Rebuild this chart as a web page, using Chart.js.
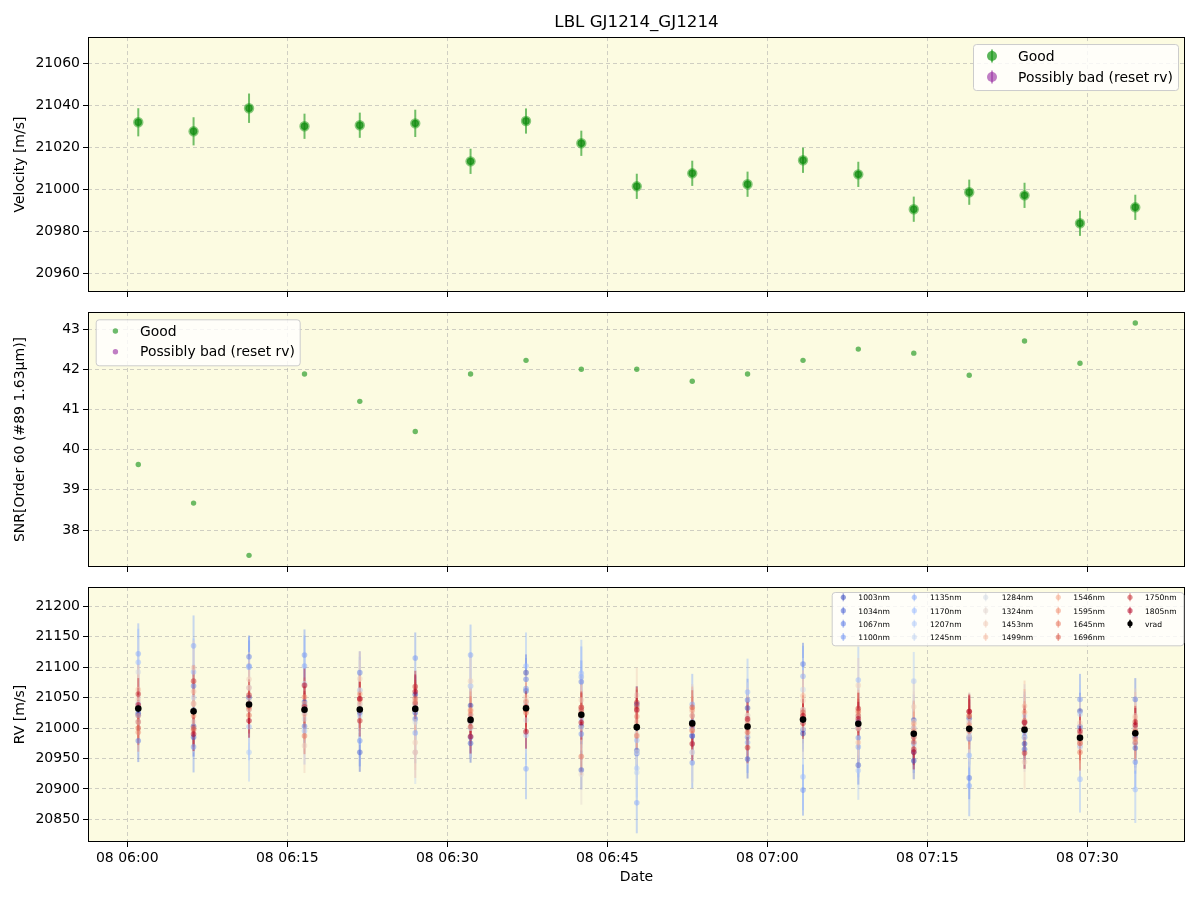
<!DOCTYPE html>
<html>
<head>
<meta charset="utf-8">
<script src="https://cdn.jsdelivr.net/npm/chart.js@4.4.0/dist/chart.umd.min.js"></script>
<style>
  body { margin: 0; background: #fff; }
  #wrap { position: relative; width: 1200px; height: 900px; }
  canvas { position: absolute; left: 0; }
</style>
</head>
<body>
<div id="wrap">
  <canvas id="velChart" width="1200" height="300" style="top:0"></canvas>
  <canvas id="snrChart" width="1200" height="275" style="top:300px"></canvas>
  <canvas id="rvChart" width="1200" height="325" style="top:575px"></canvas>
</div>
<script>
// observation times (08 Jan, UT) and per-epoch values
const obsTimes = ['06:01:02', '06:06:13', '06:11:25', '06:16:37', '06:21:48', '06:27:00', '06:32:11',
  '06:37:23', '06:42:34', '06:47:46', '06:52:58', '06:58:09', '07:03:21', '07:08:32', '07:13:44',
  '07:18:56', '07:24:07', '07:29:19', '07:34:30'];
const velocity = [21031.9, 21027.6, 21038.6, 21030.0, 21030.5, 21031.4, 21013.3, 21032.5, 21021.9, 21001.4,
  21007.6, 21002.4, 21013.8, 21007.1, 20990.5, 20998.6, 20997.1, 20983.8, 20991.4];
const velocityErr = [6.7, 6.7, 7.0, 6.0, 6.0, 6.5, 6.0, 6.0, 6.0, 6.0, 6.0, 6.0, 6.0, 6.0, 6.0, 6.0, 6.0, 6.0, 6.0];
const snr = [39.63, 38.67, 37.37, 41.88, 41.20, 40.45, 41.88, 42.22, 42.00, 42.00, 41.70, 41.88, 42.22,
  42.50, 42.40, 41.85, 42.70, 42.15, 43.15];

const wavelengths = ['1003nm', '1034nm', '1067nm', '1100nm', '1135nm', '1170nm', '1207nm', '1245nm', '1284nm',
  '1324nm', '1453nm', '1499nm', '1546nm', '1595nm', '1645nm', '1696nm', '1750nm', '1805nm'];
const rv1003 = [21024, 21003, 21050, 21037, 21025, 21055, 21037, 21091, 21003, 21039, 20987, 21033, 20991, 21010, 20946, 21016, 20974, 21028, 20985];
const rv1034 = [21021, 20985, 21040, 21043, 20960, 21025, 20975, 21061, 20931, 20963, 21000, 20949, 20997, 20939, 21013, 20985, 20965, 21002, 20967];
const rv1067 = [20979, 21069, 21117, 21003, 21091, 21015, 20985, 21080, 21076, 20958, 20987, 21046, 21105, 21000, 20961, 20918, 20985, 20985, 21047];
const rv1100 = [21030, 20969, 21102, 21120, 20979, 21115, 21010, 21065, 20990, 21000, 20943, 20985, 20898, 20984, 20975, 20982, 20995, 21047, 20944];
const rv1135 = [21122, 21135, 21100, 21102, 21030, 20992, 21120, 20933, 21084, 20877, 21039, 20976, 21085, 20969, 20990, 20905, 21010, 20970, 20975];
const rv1170 = [21108, 21092, 21002, 20995, 21062, 21040, 21069, 21102, 21090, 20980, 21010, 21059, 20920, 21079, 21000, 20955, 21000, 20916, 20899];
const rv1207 = [21040, 21030, 20960, 21025, 21020, 21030, 21000, 20988, 21015, 20934, 20960, 21000, 21030, 20930, 21077, 21010, 20990, 21023, 21000];
const rv1245 = [21010, 21050, 21066, 21073, 21040, 20960, 21020, 21040, 21030, 20927, 21020, 21010, 21063, 21020, 20985, 20990, 21020, 20980, 20990];
const rv1284 = [21092, 21040, 21030, 21015, 21035, 21010, 21069, 21013, 21000, 20960, 21000, 21020, 21010, 21010, 20970, 21000, 20983, 20990, 21000];
const rv1324 = [21050, 21010, 21045, 21030, 21062, 21045, 21000, 21045, 20924, 20990, 20960, 20990, 21000, 21000, 21010, 20985, 21000, 20967, 20980];
const rv1453 = [21045, 21099, 21080, 20971, 21081, 20976, 21077, 21051, 21046, 21054, 21027, 21021, 21045, 21070, 21035, 21010, 20944, 21008, 21020];
const rv1499 = [21063, 21060, 21066, 21022, 21039, 20960, 21010, 21035, 21020, 21010, 20995, 21010, 21053, 20976, 21000, 21000, 21036, 20975, 21017];
const rv1546 = [21020, 21040, 21040, 21040, 21045, 21030, 21030, 21030, 21034, 21028, 21030, 21013, 21030, 21025, 21007, 21020, 21026, 20980, 21000];
const rv1595 = [20993, 21020, 21031, 21051, 21056, 21043, 21028, 21043, 21025, 21019, 21020, 21005, 21021, 20999, 20995, 21005, 21012, 20990, 20982];
const rv1645 = [21010, 21000, 21021, 20987, 21030, 21049, 21022, 21025, 20953, 20987, 20996, 20993, 21015, 21028, 20977, 20995, 21009, 20960, 20976];
const rv1696 = [21000, 20997, 21035, 21030, 21048, 21040, 21002, 21030, 21030, 21035, 21034, 21000, 21026, 21020, 20985, 21020, 21000, 20975, 20995];
const rv1750 = [21056, 21077, 21054, 21035, 21012, 21068, 21015, 21035, 21034, 21042, 21005, 20968, 21008, 21032, 20965, 21027, 20959, 20985, 21010];
const rv1805 = [21038, 20990, 21012, 21070, 21048, 21060, 20986, 20994, 21009, 21030, 20974, 21015, 21020, 21015, 20960, 21027, 21009, 20995, 21005];
// typical per-line uncertainty
const rvErr = [30, 32, 35, 42, 50, 55, 48, 52, 55, 50, 45, 42, 38, 32, 30, 28, 26, 28];

const rvSeries = [rv1003, rv1034, rv1067, rv1100, rv1135, rv1170, rv1207, rv1245, rv1284,
  rv1324, rv1453, rv1499, rv1546, rv1595, rv1645, rv1696, rv1750, rv1805];

// styling
const PLOT_BG = '#fcfbe1';
const GRID = 'rgba(170,170,170,0.55)';
const X_MIN = -3.68, X_MAX = 99.16;
const COOLWARM = ['#3b4cc0', '#5977e3', '#7b9ff9', '#9ebeff', '#c0d4f5', '#dddcdc', '#f2cbb7', '#f7ac8e', '#ee8468', '#d65244', '#b40426'];

Chart.defaults.font.family = "'DejaVu Sans', sans-serif";
Chart.defaults.font.size = 14;
Chart.defaults.color = '#000';
Chart.defaults.animation = false;

function hexToRgb(h) {
    return [1, 3, 5].map(i => parseInt(h.slice(i, i + 2), 16));
}

function coolwarm(t, alpha) {
    const pos = t * (COOLWARM.length - 1);
    const i = Math.min(Math.floor(pos), COOLWARM.length - 2);
    const f = pos - i;
    const a = hexToRgb(COOLWARM[i]), b = hexToRgb(COOLWARM[i + 1]);
    const c = a.map((v, k) => Math.round(v + (b[k] - v) * f));
    return `rgba(${c[0]},${c[1]},${c[2]},${alpha})`;
}

const toMinutes = t => {
    const [h, m, s] = t.split(':').map(Number);
    return (h - 6) * 60 + m + s / 60;
};
const xMinutes = obsTimes.map(toMinutes);
const pad = n => String(n).padStart(2, '0');
const fmtTime = v => '08 ' + pad(6 + Math.floor(v / 60)) + ':' + pad(Math.round(v % 60));

const toPoints = arr => arr.map((v, j) => ({ x: xMinutes[j], y: v }));

// fills the plot area and draws the black frame
const framePlugin = {
    id: 'frame',
    beforeDraw(chart) {
        const { ctx, chartArea: a } = chart;
        ctx.save();
        ctx.fillStyle = PLOT_BG;
        ctx.fillRect(a.left, a.top, a.right - a.left, a.bottom - a.top);
        ctx.restore();
    },
    afterDraw(chart) {
        const { ctx, chartArea: a } = chart;
        ctx.save();
        ctx.strokeStyle = '#000';
        ctx.lineWidth = 1;
        ctx.strokeRect(Math.round(a.left) + 0.5, Math.round(a.top) + 0.5,
            Math.round(a.right - a.left) - 1, Math.round(a.bottom - a.top) - 1);
        ctx.restore();
    }
};

// vertical error bars, drawn under the markers
const errorBarPlugin = {
    id: 'errorBars',
    beforeDatasetsDraw(chart) {
        const { ctx, chartArea: a } = chart;
        const ys = chart.scales.y;
        ctx.save();
        ctx.beginPath();
        ctx.rect(a.left, a.top, a.right - a.left, a.bottom - a.top);
        ctx.clip();
        chart.data.datasets.forEach((ds, i) => {
            if (!ds.errors) return;
            const meta = chart.getDatasetMeta(i);
            ctx.strokeStyle = ds.errorColor;
            ctx.lineWidth = ds.errorWidth;
            meta.data.forEach((pt, j) => {
                const v = ds.data[j].y, e = ds.errors[j];
                ctx.beginPath();
                ctx.moveTo(pt.x, ys.getPixelForValue(v - e));
                ctx.lineTo(pt.x, ys.getPixelForValue(v + e));
                ctx.stroke();
            });
        });
        ctx.restore();
    }
};

// matplotlib-like legend box inside the plot area
const boxLegendPlugin = {
    id: 'boxLegend',
    afterDraw(chart, args, opts) {
        if (!opts || !opts.box) return;
        const { ctx, chartArea: a } = chart;
        const [bx, by, bw, bh] = opts.box;
        ctx.save();
        ctx.beginPath();
        ctx.roundRect(a.left + bx + 0.5, a.top + by + 0.5, bw, bh, 3);
        ctx.fillStyle = 'rgba(255,255,255,0.8)';
        ctx.fill();
        ctx.strokeStyle = '#cccccc';
        ctx.lineWidth = 1;
        ctx.stroke();
        ctx.font = `${opts.fontSize}px 'DejaVu Sans'`;
        ctx.textBaseline = 'middle';
        chart.data.datasets.forEach((d, k) => {
            const col = Math.floor(k / opts.rows.length), row = k % opts.rows.length;
            const mx = a.left + opts.markerX[col], my = a.top + opts.rows[row];
            if (opts.barHalf) {
                ctx.strokeStyle = d.legendBar;
                ctx.lineWidth = opts.barWidth;
                ctx.beginPath();
                ctx.moveTo(mx, my - opts.barHalf);
                ctx.lineTo(mx, my + opts.barHalf);
                ctx.stroke();
            }
            ctx.fillStyle = d.legendColor;
            ctx.beginPath();
            ctx.arc(mx, my, opts.markerR, 0, Math.PI * 2);
            ctx.fill();
            ctx.fillStyle = '#000';
            ctx.fillText(d.label, a.left + opts.textX[col], my + 1);
        });
        ctx.restore();
    }
};

function xScale(showLabels, height) {
    return {
        type: 'linear',
        min: X_MIN,
        max: X_MAX,
        ticks: {
            stepSize: 15, includeBounds: false, autoSkip: false, maxRotation: 0, padding: 3,
            callback: v => showLabels ? fmtTime(v) : ''
        },
        grid: { color: GRID, lineWidth: 1, tickColor: '#000', tickLength: 5, tickWidth: 1, tickBorderDash: [] },
        border: { display: false, dash: [4, 3] },
        title: showLabels
            ? { display: true, text: 'Date', padding: { top: 0, bottom: 14 } }
            : { display: false },
        afterFit: s => {
            s.height = height;
            s.paddingLeft = 0;
            s.paddingRight = 0;
        }
    };
}

function yScale(title, min, max, step) {
    return {
        type: 'linear',
        min: min,
        max: max,
        ticks: { stepSize: step, includeBounds: false, padding: 3, callback: v => String(v) },
        grid: { color: GRID, lineWidth: 1, tickColor: '#000', tickLength: 5, tickWidth: 1, tickBorderDash: [] },
        border: { display: false, dash: [4, 3] },
        title: { display: true, text: title, padding: { top: 12, bottom: 0 } },
        afterFit: s => {
            s.width = 88;
            s.paddingTop = 0;
            s.paddingBottom = 0;
        }
    };
}

const baseOptions = {
    responsive: false,
    devicePixelRatio: 1,
    animation: false,
    events: []
};

const GOOD = 'rgba(0,128,0,0.75)';
const GOOD_SOFT = 'rgba(20,150,20,0.5)';
const BAD = 'rgba(150,40,160,0.6)';

// top panel: velocity
new Chart(document.getElementById('velChart'), {
    type: 'scatter',
    data: {
        datasets: [
            {
                label: 'Good', data: toPoints(velocity), errors: velocityErr,
                errorColor: 'rgba(20,150,20,0.6)', errorWidth: 2,
                pointRadius: 3.7, pointBackgroundColor: GOOD, pointBorderColor: GOOD_SOFT, pointBorderWidth: 3,
                legendColor: 'rgba(20,150,20,0.7)', legendBar: 'rgba(20,150,20,0.6)'
            },
            {
                label: 'Possibly bad (reset rv)', data: [], pointBackgroundColor: BAD,
                legendColor: BAD, legendBar: 'rgba(150,40,160,0.5)'
            }
        ]
    },
    options: {
        ...baseOptions,
        layout: { padding: { left: 0, right: 15, top: 0, bottom: 0 }, autoPadding: false },
        plugins: {
            legend: { display: false },
            tooltip: { enabled: false },
            title: {
                display: true, text: 'LBL GJ1214_GJ1214', fullSize: false, color: '#000',
                font: { size: 16.7, weight: 'normal', lineHeight: 1.2 }, padding: { top: 13, bottom: 4 }
            },
            boxLegend: {
                box: [885, 7, 205, 46], fontSize: 13.9, rows: [19, 40],
                markerX: [904], textX: [930], markerR: 5, barHalf: 6.5, barWidth: 2
            }
        },
        scales: {
            x: xScale(false, 8),
            y: yScale('Velocity [m/s]', 20951.07, 21072.5, 20)
        }
    },
    plugins: [framePlugin, errorBarPlugin, boxLegendPlugin]
});

// middle panel: SNR
new Chart(document.getElementById('snrChart'), {
    type: 'scatter',
    data: {
        datasets: [
            {
                label: 'Good', data: toPoints(snr), pointRadius: 2.7,
                pointBackgroundColor: 'rgba(30,150,30,0.65)', pointBorderWidth: 0,
                legendColor: 'rgba(30,150,30,0.65)'
            },
            {
                label: 'Possibly bad (reset rv)', data: [], pointBackgroundColor: BAD,
                legendColor: BAD
            }
        ]
    },
    options: {
        ...baseOptions,
        layout: { padding: { left: 0, right: 15, top: 12, bottom: 0 }, autoPadding: false },
        plugins: {
            legend: { display: false },
            tooltip: { enabled: false },
            boxLegend: {
                box: [7.7, 7.3, 204, 46], fontSize: 13.9, rows: [19, 39.7],
                markerX: [27.4], textX: [52], markerR: 2.7
            }
        },
        scales: {
            x: xScale(false, 8),
            y: yScale('SNR[Order 60 (#89 1.63μm)]', 37.08, 43.423, 1)
        }
    },
    plugins: [framePlugin, boxLegendPlugin]
});

// bottom panel: per-line RVs and vrad (later series drawn on top, as in matplotlib)
const rvDatasets = wavelengths.map((w, i) => {
    const t = i / (wavelengths.length - 1);
    return {
        label: w,
        order: -i,
        data: toPoints(rvSeries[i]),
        errors: rvSeries[i].map(() => rvErr[i]),
        errorColor: coolwarm(t, 0.45),
        errorWidth: 2,
        pointRadius: 2.8,
        pointBackgroundColor: coolwarm(t, 0.5),
        pointBorderWidth: 0,
        legendColor: coolwarm(t, 0.55),
        legendBar: coolwarm(t, 0.45)
    };
});
rvDatasets.push({
    label: 'vrad',
    order: -100,
    data: toPoints(velocity),
    errors: velocityErr,
    errorColor: '#000',
    errorWidth: 1.5,
    pointRadius: 3.3,
    pointBackgroundColor: '#000',
    pointBorderWidth: 0,
    legendColor: '#000',
    legendBar: '#000'
});

new Chart(document.getElementById('rvChart'), {
    type: 'scatter',
    data: { datasets: rvDatasets },
    options: {
        ...baseOptions,
        layout: { padding: { left: 0, right: 15, top: 12, bottom: 0 }, autoPadding: false },
        plugins: {
            legend: { display: false },
            tooltip: { enabled: false },
            boxLegend: {
                box: [743.7, 5, 351.6, 53.3], fontSize: 7.6, rows: [10.3, 23.7, 36.7, 50],
                markerX: [755.3, 826.3, 897.7, 970.3, 1042], textX: [770.3, 842, 913.7, 985.3, 1057],
                markerR: 2.6, barHalf: 4, barWidth: 1.5
            }
        },
        scales: {
            x: xScale(true, 58),
            y: yScale('RV [m/s]', 20812.7, 21231.7, 50)
        }
    },
    plugins: [framePlugin, errorBarPlugin, boxLegendPlugin]
});
</script>
</body>
</html>
